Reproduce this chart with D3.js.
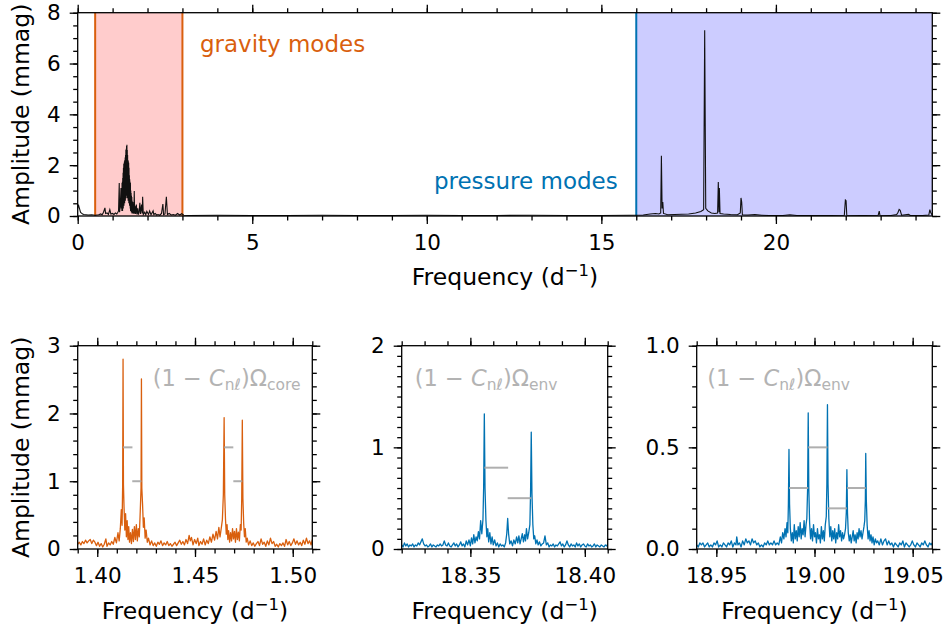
<!DOCTYPE html>
<html>
<head>
<meta charset="utf-8">
<script src="https://cdn.jsdelivr.net/npm/d3@7"></script>
<style>
  body { margin: 0; background: #fff; }
  svg { font-family: "DejaVu Sans", sans-serif; }
</style>
</head>
<body>
<svg id="fig" width="947" height="627"></svg>
<script>
// Full periodogram, [frequency d^-1, amplitude mmag]
const overview = [
  [0.00,.30],[0.02,.45],[0.04,.35],[0.06,.25],[0.08,.15],[0.10,.12],[0.14,.08],[0.18,.06],[0.24,.05],[0.30,.04],
  [0.40,.05],[0.50,.03],[0.60,.05],[0.66,.08],[0.70,.05],[0.74,.15],[0.78,.32],[0.80,.10],[0.84,.12],[0.88,.06],
  [0.92,.25],[0.95,.08],[1.00,.10],[1.04,.06],[1.08,.12],[1.12,.08],[1.15,.15],[1.17,.20],[1.19,1.30],[1.20,.15],
  [1.22,.40],[1.24,1.10],[1.25,.30],[1.26,1.00],[1.265,.20],[1.27,1.30],[1.275,.35],[1.28,1.35],[1.285,.20],
  [1.29,1.50],[1.295,.40],[1.30,1.70],[1.305,.30],[1.31,1.90],[1.315,.50],[1.32,2.05],[1.325,.40],[1.33,2.10],
  [1.335,.60],[1.34,2.15],[1.345,.50],[1.35,2.20],[1.355,.70],[1.36,2.30],[1.365,.60],[1.37,2.40],[1.375,.80],
  [1.38,2.60],[1.385,.70],[1.39,2.65],[1.395,.90],[1.40,2.75],[1.405,.80],[1.41,2.80],[1.415,.90],[1.42,2.60],
  [1.425,.70],[1.43,2.40],[1.435,.80],[1.44,2.20],[1.445,.60],[1.45,2.15],[1.455,.70],[1.46,2.10],[1.465,.50],
  [1.47,1.90],[1.475,.60],[1.48,1.60],[1.485,.40],[1.49,1.45],[1.495,.50],[1.50,1.35],[1.505,.30],[1.51,1.30],
  [1.515,.20],[1.52,1.00],[1.525,.30],[1.53,.90],[1.535,.15],[1.54,.80],[1.545,.20],[1.55,.75],[1.555,.10],
  [1.56,.60],[1.57,.10],[1.58,.55],[1.59,.12],[1.60,.45],[1.61,.08],[1.62,.98],[1.63,.10],[1.64,.40],[1.66,.08],
  [1.68,.45],[1.70,.06],[1.72,.30],[1.74,.05],[1.76,.15],[1.78,.52],[1.80,.08],[1.83,.45],[1.85,.10],[1.86,.76],
  [1.88,.06],[1.92,.15],[1.95,.05],[1.98,.18],[2.03,.06],[2.06,.20],[2.10,.05],[2.16,.20],[2.18,.06],[2.22,.10],
  [2.26,.04],[2.30,.06],[2.35,.03],[2.40,.10],[2.44,.47],[2.46,.05],[2.50,.08],[2.54,.76],[2.57,.06],[2.62,.10],
  [2.68,.04],[2.74,.06],[2.80,.03],[2.86,.10],[2.92,.04],[2.98,.09],[3.04,.03],[3.20,.02],[4.00,.03],[5.00,.02],
  [6.00,.02],[7.00,.03],[8.00,.02],[9.00,.02],[10.00,.03],[11.00,.02],[12.00,.02],[13.00,.03],[14.00,.02],
  [15.00,.02],[15.80,.03],[16.20,.04],[16.40,.08],[16.55,.10],[16.65,.08],[16.70,.12],[16.72,2.37],[16.74,.30],
  [16.76,.55],[16.78,.10],[16.90,.05],[17.10,.06],[17.30,.07],[17.50,.08],[17.70,.12],[17.85,.18],[17.93,.25],
  [17.96,7.31],[17.99,.30],[18.05,.20],[18.15,.12],[18.25,.10],[18.33,.12],[18.35,1.34],[18.37,.15],[18.38,1.10],
  [18.40,.10],[18.50,.08],[18.70,.06],[18.90,.05],[18.98,.12],[19.00,.71],[19.02,.55],[19.04,.05],[19.20,.04],
  [19.40,.06],[19.60,.03],[19.80,.02],[20.20,.02],[20.40,.05],[20.60,.02],[21.00,.02],[21.50,.02],[21.96,.03],
  [21.99,.63],[22.01,.60],[22.03,.03],[22.50,.02],[22.93,.03],[22.96,.19],[22.98,.03],[23.30,.02],[23.46,.06],
  [23.50,.15],[23.53,.26],[23.56,.22],[23.60,.03],[23.80,.07],[23.85,.02],[24.20,.02],[24.38,.04],[24.41,.25],
  [24.43,.15],[24.48,.03]
]

// Zoom on the g-mode quadruplet
const gZoom = [
  [1.3900,.07],[1.3908,.10],[1.3916,.06],[1.3924,.11],[1.3932,.08],[1.3940,.13],[1.3948,.09],[1.3956,.12],[1.3964,.14],
  [1.3972,.08],[1.3980,.13],[1.3988,.10],[1.3996,.05],[1.4004,.10],[1.4012,.04],[1.4020,.08],[1.4028,.03],[1.4036,.07],
  [1.4044,.15],[1.4050,.04],[1.4058,.09],[1.4066,.06],[1.4074,.11],[1.4082,.07],[1.4090,.17],[1.4098,.09],[1.4106,.24],
  [1.4112,.12],[1.4118,.30],[1.4123,.58],[1.4127,.35],[1.4130,.95],[1.4132,2.80],[1.4134,.95],[1.4137,.62],[1.4141,.28],
  [1.4145,.52],[1.4149,.18],[1.4153,.42],[1.4157,.14],[1.4161,.33],[1.4165,.10],[1.4170,.24],[1.4175,.08],[1.4180,.29],
  [1.4185,.11],[1.4190,.33],[1.4195,.14],[1.4200,.36],[1.4205,.12],[1.4210,.30],[1.4215,.18],[1.4220,.56],[1.4224,.90],
  [1.4226,2.51],[1.4228,.90],[1.4232,.64],[1.4236,.32],[1.4240,.46],[1.4245,.16],[1.4250,.28],[1.4256,.10],[1.4262,.16],
  [1.4270,.06],[1.4278,.12],[1.4286,.05],[1.4294,.09],[1.4302,.04],[1.4310,.10],[1.4318,.07],[1.4326,.12],[1.4334,.05],
  [1.4342,.09],[1.4350,.06],[1.4358,.11],[1.4366,.05],[1.4374,.08],[1.4382,.04],[1.4390,.07],[1.4398,.10],[1.4406,.05],
  [1.4414,.09],[1.4422,.13],[1.4430,.07],[1.4438,.11],[1.4446,.06],[1.4454,.14],[1.4462,.08],[1.4470,.20],[1.4476,.12],
  [1.4482,.17],[1.4490,.06],[1.4498,.14],[1.4506,.08],[1.4514,.16],[1.4520,.05],[1.4528,.11],[1.4536,.07],[1.4544,.15],
  [1.4552,.06],[1.4560,.13],[1.4568,.08],[1.4576,.18],[1.4584,.10],[1.4592,.22],[1.4600,.13],[1.4608,.26],[1.4615,.15],
  [1.4622,.32],[1.4628,.18],[1.4634,.30],[1.4640,.43],[1.4645,.80],[1.4649,1.94],[1.4652,.80],[1.4656,.44],[1.4660,.22],
  [1.4664,.36],[1.4668,.14],[1.4672,.27],[1.4677,.10],[1.4682,.24],[1.4687,.12],[1.4692,.30],[1.4697,.15],[1.4702,.26],
  [1.4707,.10],[1.4712,.30],[1.4717,.14],[1.4722,.25],[1.4727,.12],[1.4732,.36],[1.4736,.28],[1.4739,.75],[1.4742,1.90],
  [1.4745,.75],[1.4749,.38],[1.4753,.18],[1.4757,.30],[1.4762,.10],[1.4767,.16],[1.4774,.06],[1.4782,.12],[1.4790,.05],
  [1.4798,.09],[1.4806,.04],[1.4814,.08],[1.4822,.11],[1.4830,.05],[1.4838,.15],[1.4846,.07],[1.4854,.10],[1.4862,.04],
  [1.4870,.12],[1.4878,.06],[1.4886,.16],[1.4894,.08],[1.4902,.11],[1.4910,.04],[1.4918,.07],[1.4926,.03],[1.4934,.08],
  [1.4942,.05],[1.4950,.09],[1.4958,.04],[1.4966,.14],[1.4974,.06],[1.4982,.11],[1.4990,.05],[1.4998,.09],[1.5006,.15],
  [1.5014,.07],[1.5022,.12],[1.5030,.06],[1.5038,.10],[1.5046,.05],[1.5054,.13],[1.5062,.07],[1.5070,.16],[1.5078,.08],
  [1.5086,.12],[1.5094,.06],[1.5100,.14]
]

// Zoom on the p-mode doublet near 18.36
const pZoomA = [
  [18.3200,.04],[18.3206,.02],[18.3212,.06],[18.3218,.03],[18.3224,.05],[18.3230,.02],[18.3236,.04],[18.3242,.03],
  [18.3248,.05],[18.3254,.02],[18.3260,.04],[18.3266,.03],[18.3272,.06],[18.3278,.04],[18.3284,.07],[18.3290,.10],
  [18.3296,.05],[18.3302,.03],[18.3308,.04],[18.3314,.02],[18.3320,.03],[18.3326,.05],[18.3332,.02],[18.3338,.04],
  [18.3344,.03],[18.3350,.02],[18.3356,.04],[18.3362,.03],[18.3368,.05],[18.3374,.03],[18.3380,.04],[18.3386,.08],
  [18.3392,.04],[18.3398,.03],[18.3404,.06],[18.3410,.03],[18.3416,.02],[18.3422,.04],[18.3428,.06],[18.3434,.03],
  [18.3440,.05],[18.3446,.02],[18.3452,.04],[18.3458,.07],[18.3464,.03],[18.3470,.05],[18.3476,.02],[18.3482,.08],
  [18.3488,.04],[18.3494,.09],[18.3500,.03],[18.3505,.11],[18.3510,.05],[18.3515,.14],[18.3520,.06],[18.3525,.12],
  [18.3530,.08],[18.3535,.17],[18.3540,.10],[18.3545,.28],[18.3550,.15],[18.3555,.29],[18.3558,.60],[18.3561,1.33],
  [18.3564,.60],[18.3568,.28],[18.3572,.12],[18.3576,.20],[18.3580,.07],[18.3585,.16],[18.3590,.05],[18.3595,.12],
  [18.3600,.04],[18.3606,.09],[18.3612,.03],[18.3618,.06],[18.3624,.02],[18.3630,.05],[18.3636,.03],[18.3642,.04],
  [18.3648,.02],[18.3654,.06],[18.3659,.15],[18.3663,.30],[18.3667,.15],[18.3672,.05],[18.3678,.08],[18.3684,.03],
  [18.3690,.09],[18.3696,.05],[18.3702,.12],[18.3707,.06],[18.3712,.13],[18.3717,.05],[18.3722,.10],[18.3727,.15],
  [18.3732,.07],[18.3737,.14],[18.3741,.08],[18.3745,.20],[18.3750,.10],[18.3755,.16],[18.3760,.24],[18.3763,.55],
  [18.3766,1.15],[18.3769,.55],[18.3773,.24],[18.3777,.10],[18.3781,.13],[18.3786,.05],[18.3791,.09],[18.3796,.04],
  [18.3802,.07],[18.3808,.03],[18.3814,.05],[18.3820,.06],[18.3826,.13],[18.3832,.04],[18.3838,.06],[18.3844,.02],
  [18.3850,.04],[18.3856,.03],[18.3862,.05],[18.3868,.02],[18.3874,.04],[18.3880,.03],[18.3886,.05],[18.3892,.07],
  [18.3898,.03],[18.3904,.05],[18.3910,.02],[18.3916,.04],[18.3922,.08],[18.3928,.04],[18.3934,.02],[18.3940,.05],
  [18.3946,.03],[18.3952,.04],[18.3958,.02],[18.3964,.06],[18.3970,.03],[18.3976,.05],[18.3982,.02],[18.3988,.04],
  [18.3994,.05],[18.4000,.03],[18.4006,.02],[18.4012,.05],[18.4018,.03],[18.4024,.04],[18.4030,.02],[18.4036,.03],
  [18.4042,.05],[18.4048,.02],[18.4054,.04],[18.4060,.03],[18.4066,.02],[18.4072,.04],[18.4078,.03],[18.4084,.02],
  [18.4090,.04],[18.4096,.03],[18.4100,.05]
]

// Zoom on the p-mode quintuplet near 19.0
const pZoomB = [
  [18.9400,.02],[18.9408,.01],[18.9416,.03],[18.9424,.02],[18.9432,.03],[18.9440,.01],[18.9448,.02],[18.9456,.03],
  [18.9464,.01],[18.9472,.02],[18.9480,.01],[18.9488,.03],[18.9496,.02],[18.9504,.04],[18.9512,.01],[18.9520,.02],
  [18.9528,.01],[18.9536,.03],[18.9544,.02],[18.9552,.01],[18.9560,.03],[18.9568,.02],[18.9576,.04],[18.9584,.01],
  [18.9592,.03],[18.9600,.02],[18.9604,.06],[18.9610,.02],[18.9618,.03],[18.9626,.01],[18.9634,.04],[18.9642,.02],
  [18.9650,.05],[18.9658,.03],[18.9666,.04],[18.9674,.02],[18.9682,.05],[18.9690,.03],[18.9698,.04],[18.9706,.02],
  [18.9714,.03],[18.9722,.01],[18.9730,.02],[18.9738,.01],[18.9746,.03],[18.9754,.02],[18.9762,.04],[18.9770,.02],
  [18.9778,.03],[18.9786,.02],[18.9794,.04],[18.9802,.02],[18.9810,.03],[18.9818,.02],[18.9826,.06],[18.9832,.03],
  [18.9838,.08],[18.9844,.05],[18.9850,.10],[18.9855,.06],[18.9860,.13],[18.9864,.08],[18.9867,.22],[18.9870,.49],
  [18.9873,.22],[18.9877,.10],[18.9882,.04],[18.9887,.08],[18.9892,.03],[18.9897,.12],[18.9902,.05],[18.9907,.09],
  [18.9912,.04],[18.9917,.11],[18.9922,.06],[18.9927,.13],[18.9932,.05],[18.9937,.10],[18.9942,.07],[18.9947,.14],
  [18.9952,.06],[18.9957,.12],[18.9961,.15],[18.9965,.30],[18.9968,.67],[18.9971,.30],[18.9975,.13],[18.9980,.05],
  [18.9985,.10],[18.9990,.04],[18.9995,.12],[19.0000,.06],[19.0005,.08],[19.0010,.03],[19.0015,.10],[19.0020,.05],
  [19.0025,.07],[19.0030,.03],[19.0035,.11],[19.0040,.05],[19.0045,.09],[19.0050,.04],[19.0055,.12],[19.0060,.16],
  [19.0063,.32],[19.0066,.71],[19.0069,.32],[19.0073,.15],[19.0078,.06],[19.0083,.11],[19.0088,.04],[19.0093,.09],
  [19.0098,.05],[19.0103,.10],[19.0108,.03],[19.0113,.08],[19.0118,.05],[19.0123,.12],[19.0128,.06],[19.0133,.09],
  [19.0138,.04],[19.0143,.08],[19.0148,.05],[19.0153,.07],[19.0158,.10],[19.0162,.18],[19.0165,.39],[19.0168,.18],
  [19.0172,.08],[19.0177,.04],[19.0182,.07],[19.0187,.03],[19.0192,.06],[19.0197,.09],[19.0202,.04],[19.0207,.07],
  [19.0212,.03],[19.0217,.08],[19.0222,.05],[19.0227,.10],[19.0232,.06],[19.0237,.09],[19.0242,.05],[19.0247,.08],
  [19.0252,.11],[19.0256,.14],[19.0259,.24],[19.0261,.47],[19.0264,.24],[19.0268,.12],[19.0273,.05],[19.0278,.09],
  [19.0283,.04],[19.0288,.07],[19.0293,.03],[19.0298,.06],[19.0304,.02],[19.0310,.05],[19.0316,.03],[19.0322,.04],
  [19.0330,.02],[19.0338,.05],[19.0346,.02],[19.0354,.04],[19.0362,.05],[19.0370,.02],[19.0378,.04],[19.0386,.02],
  [19.0394,.03],[19.0402,.01],[19.0410,.03],[19.0418,.02],[19.0426,.01],[19.0434,.03],[19.0442,.02],[19.0450,.04],
  [19.0458,.01],[19.0466,.03],[19.0474,.02],[19.0482,.01],[19.0490,.02],[19.0498,.04],[19.0506,.02],[19.0514,.01],
  [19.0522,.03],[19.0530,.02],[19.0538,.01],[19.0546,.03],[19.0554,.02],[19.0562,.04],[19.0570,.02],[19.0578,.01],
  [19.0586,.03],[19.0594,.02],[19.0600,.03]
]

// Rotational splitting markers: [from, to, amplitude level]
const gSplit = [[1.4132, 1.4180, 1.5], [1.4179, 1.4226, 1.0], [1.4649, 1.4696, 1.5], [1.4696, 1.4742, 1.0]]
const pSplitA = [[18.3561, 18.3665, 0.8], [18.3663, 18.3766, 0.5]]
const pSplitB = [[18.9870, 18.9968, 0.3], [18.9968, 19.0066, 0.5], [19.0066, 19.0165, 0.2], [19.0165, 19.0261, 0.3]]

// Mode regions
const gRange = [0.5, 3.0]
const pRange = [16.0, 24.48]

// Tick labels
const topXTicks = [0, 5, 10, 15, 20]
const topYTicks = [0, 2, 4, 6, 8]
const gXTicks = [1.40, 1.45, 1.50]
const gYTicks = [0, 1, 2, 3]
const pAXTicks = [18.35, 18.40]
const pAYTicks = [0, 1, 2]
const pBXTicks = [18.95, 19.00, 19.05]
const pBYTicks = [0.0, 0.5, 1.0]

const colors = {
  orange: '#d95f0e',
  blue: '#0072b2',
  gBand: '#ffcccc',
  pBand: '#ccccff',
  split: '#a6a6a6',
  note: '#b3b3b3'
}
const tickFont = 21.5
const labelFont = 23.5
const noteFont = 23

const svg = d3.select('#fig')
const defs = svg.append('defs')

function frame(g, box) {
  g.append('rect')
    .attr('x', box.x0).attr('y', box.y0)
    .attr('width', box.x1 - box.x0).attr('height', box.y1 - box.y0)
    .attr('fill', 'none').attr('stroke', '#000').attr('stroke-width', 1.3)
}

// Axes with ticks on all four sides (outward), labels bottom and left
function axes(g, x, y, box, o) {
  const put = (axis, tx, ty) => {
    const a = g.append('g').attr('transform', `translate(${tx},${ty})`).call(axis)
    a.select('.domain').remove()
    a.selectAll('line').attr('stroke', '#000').attr('stroke-width', 1.3)
    a.selectAll('text').attr('font-size', tickFont).attr('fill', '#000')
      .attr('font-family', '"DejaVu Sans", sans-serif')
    return a
  }
  put(d3.axisBottom(x).tickValues(o.xTicks).tickSize(8).tickPadding(11).tickFormat(o.xFmt), 0, box.y1)
  put(d3.axisBottom(x).tickValues(o.xMinor).tickSize(4.5).tickFormat(''), 0, box.y1)
  put(d3.axisTop(x).tickValues(o.xTicks).tickSize(8).tickFormat(''), 0, box.y0)
  put(d3.axisTop(x).tickValues(o.xMinor).tickSize(4.5).tickFormat(''), 0, box.y0)
  put(d3.axisLeft(y).tickValues(o.yTicks).tickSize(8).tickPadding(9).tickFormat(o.yFmt), box.x0, 0)
  put(d3.axisLeft(y).tickValues(o.yMinor).tickSize(4.5).tickFormat(''), box.x0, 0)
  put(d3.axisRight(y).tickValues(o.yTicks).tickSize(8).tickFormat(''), box.x1, 0)
  put(d3.axisRight(y).tickValues(o.yMinor).tickSize(4.5).tickFormat(''), box.x1, 0)
}

function freqLabel(g, cx, baseline) {
  const t = g.append('text')
    .attr('x', cx).attr('y', baseline)
    .attr('text-anchor', 'middle')
    .attr('font-size', labelFont)
  t.append('tspan').text('Frequency (d')
  t.append('tspan').attr('font-size', labelFont * 0.7).attr('dy', -9).text('\u22121')
  t.append('tspan').attr('dy', 9).text(')')
}

function ampLabel(g, cy) {
  g.append('text')
    .attr('transform', `translate(29,${cy}) rotate(-90)`)
    .attr('text-anchor', 'middle')
    .attr('font-size', labelFont)
    .text('Amplitude (mmag)')
}

function minors(lo, hi, step) {
  return d3.range(Math.round(lo / step), Math.round(hi / step) + 1).map(i => +(i * step).toFixed(4))
}

// ---------- Top panel: full periodogram ----------
{
  const box = { x0: 77.7, x1: 932.3, y0: 12.7, y1: 216 }
  const x = d3.scaleLinear().domain([0, 24.48]).range([box.x0, box.x1])
  const y = d3.scaleLinear().domain([0, 8]).range([box.y1, box.y0])
  const g = svg.append('g')

  defs.append('clipPath').attr('id', 'clip-top')
    .append('rect').attr('x', box.x0).attr('y', box.y0)
    .attr('width', box.x1 - box.x0).attr('height', box.y1 - box.y0)

  // mode regions
  g.append('rect')
    .attr('x', x(gRange[0])).attr('y', box.y0)
    .attr('width', x(gRange[1]) - x(gRange[0])).attr('height', box.y1 - box.y0)
    .attr('fill', colors.gBand)
  g.append('rect')
    .attr('x', x(pRange[0])).attr('y', box.y0)
    .attr('width', x(pRange[1]) - x(pRange[0])).attr('height', box.y1 - box.y0)
    .attr('fill', colors.pBand)
  g.selectAll('.gedge').data(gRange).enter().append('line')
    .attr('x1', d => x(d)).attr('x2', d => x(d))
    .attr('y1', box.y0).attr('y2', box.y1)
    .attr('stroke', colors.orange).attr('stroke-width', 2)
  g.append('line')
    .attr('x1', x(pRange[0])).attr('x2', x(pRange[0]))
    .attr('y1', box.y0).attr('y2', box.y1)
    .attr('stroke', colors.blue).attr('stroke-width', 2)

  const line = d3.line().x(d => x(d[0])).y(d => y(d[1]))
  g.append('path')
    .datum(overview)
    .attr('clip-path', 'url(#clip-top)')
    .attr('fill', 'none').attr('stroke', '#111').attr('stroke-width', 1.1)
    .attr('stroke-linejoin', 'miter')
    .attr('d', line)

  g.append('text')
    .attr('x', x(3.5)).attr('y', 52)
    .attr('font-size', noteFont).attr('fill', colors.orange)
    .text('gravity modes')
  g.append('text')
    .attr('x', x(15.47)).attr('y', 189)
    .attr('text-anchor', 'end')
    .attr('font-size', noteFont).attr('fill', colors.blue)
    .text('pressure modes')

  frame(g, box)
  axes(g, x, y, box, {
    xTicks: topXTicks, xMinor: minors(0, 24, 1), xFmt: d3.format('d'),
    yTicks: topYTicks, yMinor: minors(0, 8, 0.5), yFmt: d3.format('d')
  })
  freqLabel(g, (box.x0 + box.x1) / 2, 285)
  ampLabel(g, (box.y0 + box.y1) / 2)
}

// ---------- Bottom panels: zooms ----------
function zoomPanel(cfg) {
  const { box } = cfg
  const x = d3.scaleLinear().domain(cfg.xDomain).range([box.x0, box.x1])
  const y = d3.scaleLinear().domain(cfg.yDomain).range([box.y1, box.y0])
  const g = svg.append('g')

  defs.append('clipPath').attr('id', cfg.id)
    .append('rect').attr('x', box.x0).attr('y', box.y0)
    .attr('width', box.x1 - box.x0).attr('height', box.y1 - box.y0)

  const line = d3.line().x(d => x(d[0])).y(d => y(d[1]))
  g.append('path')
    .datum(cfg.data)
    .attr('clip-path', `url(#${cfg.id})`)
    .attr('fill', 'none').attr('stroke', cfg.color).attr('stroke-width', 1.3)
    .attr('stroke-linejoin', 'round')
    .attr('d', line)

  g.selectAll('.split').data(cfg.split).enter().append('line')
    .attr('x1', d => x(d[0])).attr('x2', d => x(d[1]))
    .attr('y1', d => y(d[2])).attr('y2', d => y(d[2]))
    .attr('stroke', colors.split).attr('stroke-width', 2).attr('stroke-opacity', 0.9)

  // (1 - C_nl) Omega annotation
  const t = g.append('text')
    .attr('x', box.x0 + cfg.noteDx).attr('y', 386)
    .attr('font-size', 22.5).attr('fill', colors.note)
  t.append('tspan').text('(1 \u2212 ')
  t.append('tspan').attr('font-style', 'italic').text('C')
  t.append('tspan').attr('font-size', 15.5).attr('dy', 4).text('n\u2113')
  t.append('tspan').attr('dy', -4).text(')\u03a9')
  t.append('tspan').attr('font-size', 15.5).attr('dy', 4).text(cfg.sub)

  frame(g, box)
  axes(g, x, y, box, {
    xTicks: cfg.xTicks, xMinor: cfg.xMinor, xFmt: d3.format('.2f'),
    yTicks: cfg.yTicks, yMinor: cfg.yMinor, yFmt: cfg.yFmt
  })
  freqLabel(g, (box.x0 + box.x1) / 2, 619)
  return g
}

const rowY = { y0: 345.7, y1: 549 }

const g1 = zoomPanel({
  id: 'clip-g', box: { x0: 77.7, x1: 312.3, ...rowY },
  xDomain: [1.39, 1.51], yDomain: [0, 3],
  data: gZoom, split: gSplit, color: colors.orange, noteDx: 75, sub: 'core',
  xTicks: gXTicks, xMinor: minors(1.39, 1.51, 0.01),
  yTicks: gYTicks, yMinor: minors(0, 3, 0.2), yFmt: d3.format('d')
})
ampLabel(g1, (rowY.y0 + rowY.y1) / 2)

zoomPanel({
  id: 'clip-pa', box: { x0: 401.7, x1: 607.7, ...rowY },
  xDomain: [18.32, 18.41], yDomain: [0, 2],
  data: pZoomA, split: pSplitA, color: colors.blue, noteDx: 13, sub: 'env',
  xTicks: pAXTicks, xMinor: minors(18.32, 18.41, 0.01),
  yTicks: pAYTicks, yMinor: minors(0, 2, 0.1), yFmt: d3.format('d')
})

zoomPanel({
  id: 'clip-pb', box: { x0: 696.7, x1: 932.3, ...rowY },
  xDomain: [18.94, 19.06], yDomain: [0, 1],
  data: pZoomB, split: pSplitB, color: colors.blue, noteDx: 10.5, sub: 'env',
  xTicks: pBXTicks, xMinor: minors(18.94, 19.06, 0.01),
  yTicks: pBYTicks, yMinor: minors(0, 1, 0.1), yFmt: d3.format('.1f')
})
</script>
</body>
</html>
